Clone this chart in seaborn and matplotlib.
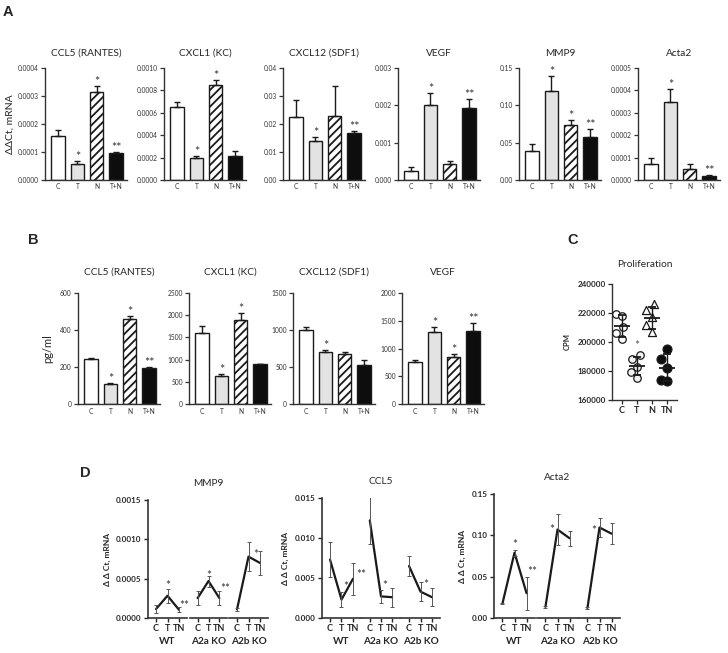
import numpy as np
import pandas as pd
import matplotlib.pyplot as plt
import seaborn as sns

FIG_W, FIG_H = 728, 653
INK = "#1a1a1a"
AXIS_COLOR = "#333333"

# ---------- data ----------
BAR_GROUPS = ["C", "T", "N", "T+N"]

# A: qPCR, ddCt mRNA
A_TITLES = ["CCL5 (RANTES)", "CXCL1 (KC)", "CXCL12 (SDF1)", "VEGF", "MMP9", "Acta2"]
A_CCL5 = [0.000158, 0.000057, 0.000315, 0.000095]
A_CCL5_ERR = [0.000020, 0.000010, 0.000020, 0.000004]
A_CXCL1 = [0.00065, 0.000195, 0.00085, 0.000215]
A_CXCL1_ERR = [0.00005, 0.00002, 0.00004, 0.00004]
A_CXCL12 = [0.0225, 0.0140, 0.0230, 0.0168]
A_CXCL12_ERR = [0.0060, 0.0015, 0.0105, 0.0008]
A_VEGF = [0.00024, 0.00200, 0.00042, 0.00194]
A_VEGF_ERR = [0.00010, 0.00032, 0.00008, 0.00024]
A_MMP9 = [0.039, 0.119, 0.074, 0.057]
A_MMP9_ERR = [0.009, 0.020, 0.006, 0.011]
A_ACTA2 = [0.000072, 0.000347, 0.000047, 0.000017]
A_ACTA2_ERR = [0.000028, 0.000058, 0.000025, 0.000005]
A_STARS = [["", "*", "*", "**"], ["", "*", "*", ""], ["", "*", "", "**"],
           ["", "*", "", "**"], ["", "*", "*", "**"], ["", "*", "", "**"]]
A_YMAX = [0.0004, 0.0010, 0.04, 0.003, 0.15, 0.0005]
A_YSTEP = [0.0001, 0.0002, 0.01, 0.001, 0.05, 0.0001]
A_FMT = ["%.4f", "%.4f", "%.2f", "%.3f", "%.2f", "%.4f"]

# B: protein, pg/ml
B_TITLES = ["CCL5 (RANTES)", "CXCL1 (KC)", "CXCL12 (SDF1)", "VEGF"]
B_CCL5 = [245, 110, 462, 197]
B_CCL5_ERR = [4, 4, 14, 5]
B_CXCL1 = [1610, 640, 1890, 890]
B_CXCL1_ERR = [140, 40, 150, 20]
B_CXCL12 = [1005, 700, 680, 530]
B_CXCL12_ERR = [40, 35, 25, 70]
B_VEGF = [750, 1300, 850, 1310]
B_VEGF_ERR = [45, 90, 45, 150]
B_STARS = [["", "*", "*", "**"], ["", "*", "*", ""], ["", "*", "", ""], ["", "*", "*", "**"]]
B_YMAX = [600, 2500, 1500, 2000]
B_YSTEP = [200, 500, 500, 500]

# C: proliferation, CPM
PROLIF_GROUPS = ["C", "T", "N", "TN"]
PROLIF_C = [219500, 218000, 210000, 206500, 202000]
PROLIF_T = [191000, 188000, 183000, 179000, 175500]
PROLIF_N = [226000, 222000, 217000, 212000, 207000]
PROLIF_TN = [195000, 188000, 182000, 174000, 173000]

# D: knockout strains, ddCt mRNA
D_GENES = ["MMP9", "CCL5", "Acta2"]
D_STRAINS = ["WT", "A2a KO", "A2b KO"]
D_TREAT = ["C", "T", "TN"]
MMP9_MEANS = [[0.000114, 0.000283, 0.000105], [0.000253, 0.000470, 0.000253], [0.000110, 0.000780, 0.000700]]
MMP9_ERRS = [[0.00005, 0.00009, 0.00003], [0.00009, 0.00007, 0.00009], [0.00002, 0.00018, 0.00015]]
CCL5_MEANS = [[0.0073, 0.0023, 0.0049], [0.0122, 0.0027, 0.0026], [0.0065, 0.0033, 0.0026]]
CCL5_ERRS = [[0.0022, 0.0009, 0.0020], [0.0030, 0.0008, 0.0012], [0.0012, 0.0012, 0.0011]]
ACTA2_MEANS = [[0.0174, 0.0790, 0.030], [0.0134, 0.107, 0.0965], [0.0120, 0.1095, 0.102]]
ACTA2_ERRS = [[0.0010, 0.0035, 0.020], [0.0010, 0.019, 0.009], [0.0010, 0.011, 0.013]]
# (strain, treatment, label)
MMP9_STARS = [(0, 1, "*"), (0, 2, "**"), (1, 1, "*"), (1, 2, "**"), (2, 1, "*")]
CCL5_STARS = [(0, 1, "*"), (0, 2, "**"), (1, 1, "*"), (2, 1, "*")]
ACTA2_STARS = [(0, 1, "*"), (0, 2, "**"), (1, 1, "*"), (2, 1, "*")]
D_YMAX = [0.0015, 0.015, 0.15]
D_YSTEP = [0.0005, 0.005, 0.05]
D_FMT = ["%.4f", "%.3f", "%.2f"]

# ---------- styling / layout ----------
BAR_FACES = ["white", "#e3e3e3", "white", "#0d0d0d"]
BAR_HATCHES = ["", "", "////", ""]
MMP9_STAR_OFF = [(0, 0), (4, -1), (0, -2.5), (4, -1), (5, -11)]
CCL5_STAR_OFF = [(3, 2), (6, -11), (3, 1), (4, -4)]
ACTA2_STAR_OFF = [(0, 1), (4, 1), (-4, -14), (-4, -11)]

sns.set_theme(style="ticks")
plt.rcParams["font.family"] = ["Lato", "DejaVu Sans"]
plt.rcParams["hatch.linewidth"] = 1.3
plt.rcParams["axes.edgecolor"] = AXIS_COLOR


def add_axes(fig, left, top, right, bottom):
    return fig.add_axes([left / FIG_W, 1 - bottom / FIG_H,
                         (right - left) / FIG_W, (bottom - top) / FIG_H])


def clean_spines(ax, lw=1.0):
    sns.despine(ax=ax)
    for side in ("left", "bottom"):
        ax.spines[side].set_linewidth(lw)
        ax.spines[side].set_color(AXIS_COLOR)


def bar_chart(ax, title, means, errs, stars, ymax, ystep, fmt, title_pad, tick_fs, xpad):
    df = pd.DataFrame({"group": BAR_GROUPS, "value": means})
    sns.barplot(data=df, x="group", y="value", hue="group", order=BAR_GROUPS,
                hue_order=BAR_GROUPS, palette=dict(zip(BAR_GROUPS, BAR_FACES)),
                legend=False, width=0.7, edgecolor=INK, linewidth=1.0, ax=ax)
    for patch, hatch in zip(ax.patches, BAR_HATCHES):
        patch.set_hatch(hatch)
    ax.errorbar(np.arange(4), means, yerr=[np.zeros(4), errs], fmt="none",
                ecolor=INK, elinewidth=1.0, capsize=2.0, capthick=1.0)
    for i, s in enumerate(stars):
        if s:
            ax.annotate(s, (i, means[i] + errs[i]), xytext=(0, 0), textcoords="offset points",
                        ha="center", va="baseline", fontsize=9, color="#333333")
    ticks = np.arange(0, ymax + ystep / 2, ystep)
    ax.set_yticks(ticks, labels=[fmt % t for t in ticks], fontsize=tick_fs, color=AXIS_COLOR)
    ax.set_ylim(0, ymax)
    ax.set_xlim(-0.68, 3.57)
    ax.set_xticks(range(4), labels=BAR_GROUPS, fontsize=tick_fs, color=AXIS_COLOR)
    ax.tick_params(axis="x", length=0, pad=xpad)
    ax.tick_params(axis="y", length=3, width=0.9, pad=1.5, color=AXIS_COLOR)
    ax.set_xlabel("")
    ax.set_ylabel("")
    ax.set_title(title, fontsize=7.3, pad=title_pad)
    clean_spines(ax)


fig = plt.figure(figsize=(FIG_W / 100, FIG_H / 100), dpi=100)

# ---------- panel A ----------
a_means = [A_CCL5, A_CXCL1, A_CXCL12, A_VEGF, A_MMP9, A_ACTA2]
a_errs = [A_CCL5_ERR, A_CXCL1_ERR, A_CXCL12_ERR, A_VEGF_ERR, A_MMP9_ERR, A_ACTA2_ERR]
a_lefts = [45, 164, 283, 398, 519, 638]
for k, left in enumerate(a_lefts):
    ax = add_axes(fig, left, 68, left + 82, 180)
    bar_chart(ax, A_TITLES[k], a_means[k], a_errs[k], A_STARS[k], A_YMAX[k], A_YSTEP[k],
              A_FMT[k], 9, 4.8, 2)
    if k == 0:
        ax.set_ylabel("ΔΔCt, mRNA", fontsize=7.5, labelpad=2)

# ---------- panel B ----------
b_means = [B_CCL5, B_CXCL1, B_CXCL12, B_VEGF]
b_errs = [B_CCL5_ERR, B_CXCL1_ERR, B_CXCL12_ERR, B_VEGF_ERR]
b_lefts = [78, 189, 293, 402]
for k, left in enumerate(b_lefts):
    ax = add_axes(fig, left, 293, left + 82, 404)
    bar_chart(ax, B_TITLES[k], b_means[k], b_errs[k], B_STARS[k], B_YMAX[k], B_YSTEP[k],
              "%d", 13, 4.8, 3)
    if k == 0:
        ax.set_ylabel("pg/ml", fontsize=8, labelpad=5)

# ---------- panel C ----------
ax = add_axes(fig, 612, 284, 677, 400)
prolif = pd.DataFrame({
    "group": np.repeat(PROLIF_GROUPS, 5),
    "cpm": np.concatenate([PROLIF_C, PROLIF_T, PROLIF_N, PROLIF_TN]),
})
styles = [("o", "white", 5.4), ("o", "#f2f2f2", 5.4), ("^", "white", 5.8), ("o", "#0d0d0d", 6.4)]
for g, (marker, face, size) in zip(PROLIF_GROUPS, styles):
    sns.swarmplot(data=prolif[prolif["group"] == g], x="group", y="cpm", order=PROLIF_GROUPS,
                  marker=marker, color=face, edgecolor=INK, linewidth=0.9, size=size, ax=ax)
stats = prolif.groupby("group")["cpm"].agg(["mean", "std"]).reindex(PROLIF_GROUPS)
ax.errorbar(np.arange(4), stats["mean"], yerr=stats["std"], fmt="_", color=INK,
            markersize=12, mew=1.3, elinewidth=1.0, capsize=3, capthick=1.0, zorder=5)
ax.annotate("*", (1, max(PROLIF_T)), xytext=(0, 4), textcoords="offset points",
            ha="center", va="baseline", fontsize=8.5, color="#555555")
c_ticks = np.arange(160000, 240001, 20000)
ax.set_yticks(c_ticks, labels=["%d" % t for t in c_ticks], fontsize=5.8, fontweight="bold")
ax.set_ylim(160000, 240000)
ax.set_xlim(-0.67, 3.67)
ax.set_xticks(range(4), labels=PROLIF_GROUPS, fontsize=6.5, fontweight="bold")
ax.tick_params(axis="both", length=3, width=0.9, pad=1.5)
ax.set_xlabel("")
ax.set_ylabel("CPM", fontsize=5.5, fontweight="bold", labelpad=5)
ax.set_title("Proliferation", fontsize=7.3, pad=12)
clean_spines(ax)

# ---------- panel D ----------
d_means = [MMP9_MEANS, CCL5_MEANS, ACTA2_MEANS]
d_errs = [MMP9_ERRS, CCL5_ERRS, ACTA2_ERRS]
d_stars = [MMP9_STARS, CCL5_STARS, ACTA2_STARS]
d_star_off = [MMP9_STAR_OFF, CCL5_STAR_OFF, ACTA2_STAR_OFF]
d_segments = [[(148, 187), (190, 227), (229, 268)],
              [(322, 361), (362, 400), (401, 440)],
              [(494, 535), (537, 578), (579, 620)]]
d_tops = [500, 498, 494]
for g, gene in enumerate(D_GENES):
    axes = []
    for s, (x0, x1) in enumerate(d_segments[g]):
        ax = add_axes(fig, x0, d_tops[g], x1, 618)
        ax.patch.set_visible(False)
        axes.append(ax)
        line = pd.DataFrame({"treat": D_TREAT, "value": d_means[g][s]})
        sns.lineplot(data=line, x="treat", y="value", color=INK, lw=1.6, ax=ax)
        ax.errorbar(np.arange(3), d_means[g][s], yerr=d_errs[g][s], fmt="none",
                    ecolor="#555555", elinewidth=0.7, capsize=1.5, capthick=0.7)
        ticks = np.arange(0, D_YMAX[g] + D_YSTEP[g] / 2, D_YSTEP[g])
        ax.set_ylim(0, D_YMAX[g])
        ax.set_xlim(-0.7, 2.7)
        ax.set_xticks(range(3), labels=D_TREAT, fontsize=6.5, fontweight="bold")
        ax.set_xlabel(D_STRAINS[s], fontsize=7.2, fontweight="bold", labelpad=3)
        ax.tick_params(axis="both", length=3, width=1.0, pad=1.5)
        clean_spines(ax, lw=1.2)
        if s == 0:
            ax.set_yticks(ticks, labels=[D_FMT[g] % t for t in ticks], fontsize=5.8, fontweight="bold")
            ax.set_ylabel("Δ Δ Ct, mRNA", fontsize=6, fontweight="bold", labelpad=4)
        else:
            ax.set_yticks(ticks)
            ax.spines["left"].set_visible(False)
            ax.tick_params(axis="y", left=False, labelleft=False)
            ax.set_ylabel("")
    for (s, t, label), (dx, dy) in zip(d_stars[g], d_star_off[g]):
        m, e = d_means[g][s][t], d_errs[g][s][t]
        axes[s].annotate(label, (t, m + e), xytext=(dx, dy), textcoords="offset points",
                         ha="center", va="baseline", fontsize=8.5, color="#333333",
                         annotation_clip=False, zorder=10)
    axes[1].set_title(gene, fontsize=7.3, pad=10)

# ---------- panel letters ----------
for letter, (x, y) in {"A": (8, 12), "B": (33, 240), "C": (573, 240), "D": (85, 473)}.items():
    fig.text(x / FIG_W, 1 - y / FIG_H, letter, fontsize=10.5, fontweight="bold",
             ha="center", va="center", family=["Liberation Sans", "DejaVu Sans"])

fig.savefig("out.png", dpi=100, facecolor="white")
